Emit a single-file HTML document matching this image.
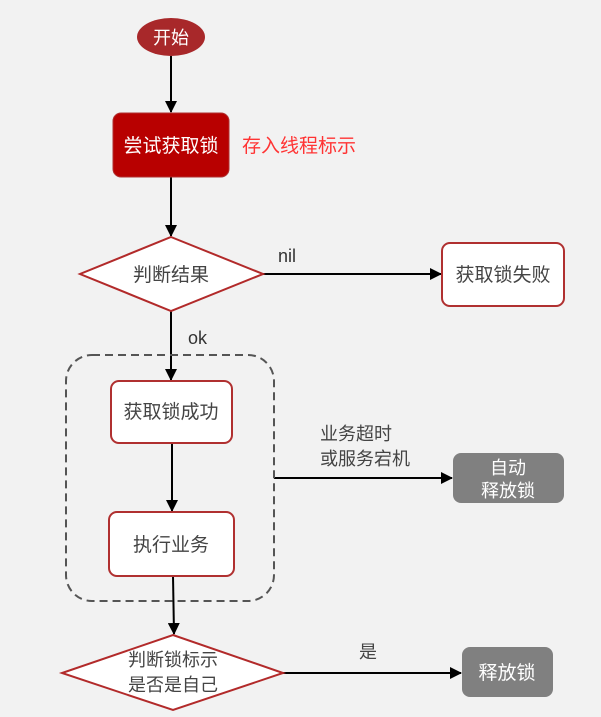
<!DOCTYPE html>
<html><head><meta charset="utf-8"><style>
html,body{margin:0;padding:0;background:#f2f2f2;}
svg{display:block;font-family:"Liberation Sans","Noto Sans CJK SC",sans-serif;}
</style></head><body>
<svg width="601" height="717" viewBox="0 0 601 717" xmlns="http://www.w3.org/2000/svg">
<defs><marker id="a" markerWidth="12" markerHeight="12" refX="11" refY="6" orient="auto" markerUnits="userSpaceOnUse"><path d="M0,0 L12,6 L0,12 z" fill="#000"/></marker></defs>
<rect width="601" height="717" fill="#f2f2f2"/>
<g stroke="#000" stroke-width="2" fill="none">
<line x1="171" y1="56" x2="171" y2="112" marker-end="url(#a)"/>
<line x1="171" y1="177" x2="171" y2="236" marker-end="url(#a)"/>
<line x1="263" y1="274" x2="441" y2="274" marker-end="url(#a)"/>
<line x1="171" y1="311" x2="171" y2="380" marker-end="url(#a)"/>
<line x1="172" y1="443" x2="172" y2="511" marker-end="url(#a)"/>
<line x1="173" y1="576" x2="174" y2="634" marker-end="url(#a)"/>
<line x1="283" y1="673" x2="461" y2="673" marker-end="url(#a)"/>
<line x1="274" y1="478" x2="452" y2="478" marker-end="url(#a)"/>
</g>
<rect x="66" y="355" width="208" height="246" rx="26" fill="none" stroke="#555" stroke-width="2" stroke-dasharray="8,5"/>
<ellipse cx="171" cy="37" rx="34" ry="19" fill="#a8282a"/>
<text x="171" y="44" font-size="18" fill="#fff" text-anchor="middle">开始</text>
<rect x="113" y="113" width="116" height="64" rx="8" fill="#b80000" stroke="#b03030"/>
<text x="171" y="152" font-size="19" fill="#fff" text-anchor="middle">尝试获取锁</text>
<text x="242" y="152" font-size="19" fill="#ff3333">存入线程标示</text>
<polygon points="171,237 263,274 171,311 80,274" fill="#fff" stroke="#b22a2a" stroke-width="2"/>
<text x="171" y="281" font-size="19" fill="#444" text-anchor="middle">判断结果</text>
<text x="278" y="262" font-size="18" fill="#333">nil</text>
<rect x="442" y="243" width="122" height="63" rx="8" fill="#fff" stroke="#b03030" stroke-width="2"/>
<text x="503" y="281" font-size="19" fill="#444" text-anchor="middle">获取锁失败</text>
<text x="188" y="344" font-size="18" fill="#333">ok</text>
<rect x="111" y="381" width="121" height="62" rx="8" fill="#fff" stroke="#b03030" stroke-width="2"/>
<text x="171" y="418" font-size="19" fill="#444" text-anchor="middle">获取锁成功</text>
<rect x="109" y="512" width="125" height="64" rx="8" fill="#fff" stroke="#b03030" stroke-width="2"/>
<text x="171" y="551" font-size="19" fill="#444" text-anchor="middle">执行业务</text>
<text x="320" y="440" font-size="18" fill="#444">业务超时</text>
<text x="320" y="465" font-size="18" fill="#444">或服务宕机</text>
<rect x="453" y="453" width="111" height="50" rx="8" fill="#808080"/>
<text x="508" y="474" font-size="18" fill="#fff" text-anchor="middle">自动</text>
<text x="508" y="497" font-size="18" fill="#fff" text-anchor="middle">释放锁</text>
<polygon points="173,635 283,673 173,710 62,673" fill="#fff" stroke="#b22a2a" stroke-width="2"/>
<text x="173" y="666" font-size="18" fill="#444" text-anchor="middle">判断锁标示</text>
<text x="173" y="691" font-size="18" fill="#444" text-anchor="middle">是否是自己</text>
<text x="368" y="658" font-size="18" fill="#444" text-anchor="middle">是</text>
<rect x="462" y="647" width="91" height="50" rx="8" fill="#808080"/>
<text x="507" y="679" font-size="19" fill="#fff" text-anchor="middle">释放锁</text>
</svg>
</body></html>
